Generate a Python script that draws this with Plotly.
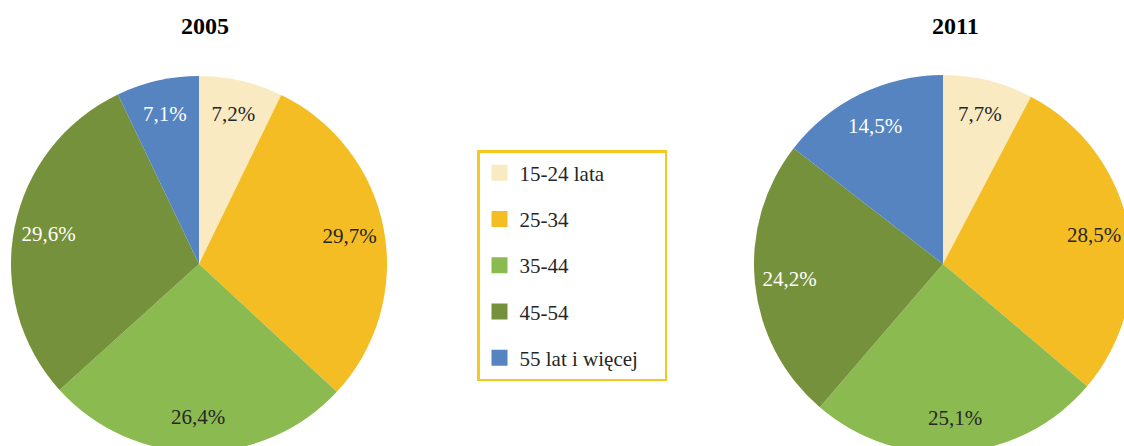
import plotly.graph_objects as go

categories = ["15-24 lata", "25-34", "35-44", "45-54", "55 lat i więcej"]
values_2005 = [7.2, 29.7, 26.4, 29.6, 7.1]
values_2011 = [7.7, 28.5, 25.1, 24.2, 14.5]
years = ["2005", "2011"]

colors = ["#FAEAC2", "#F4BD24", "#8BBA50", "#76913B", "#5584C0"]
text_colors = ["#262626", "#262626", "#262626", "#FFFFFF", "#FFFFFF"]

W, H = 1140, 460
FONT = "Liberation Serif, Times New Roman, serif"


def fmt(v):
    return f"{v:.1f}".replace(".", ",") + "%"


fig = go.Figure()

pies = [
    (values_2005, (199, 264, 188)),
    (values_2011, (943, 264, 189)),
]
for vals, (cx, cy, r) in pies:
    dom = dict(x=[(cx - r) / W, (cx + r) / W],
               y=[(H - cy - r) / H, (H - cy + r) / H])
    # filled slices
    fig.add_trace(go.Pie(
        labels=categories, values=vals, sort=False,
        direction="clockwise", rotation=0,
        marker=dict(colors=colors, line=dict(width=0)),
        textinfo="none", showlegend=False, domain=dom,
    ))
    # transparent ring carrying the percentage labels
    fig.add_trace(go.Pie(
        labels=categories, values=vals, sort=False,
        direction="clockwise", rotation=0, hole=0.63,
        marker=dict(colors=["rgba(0,0,0,0)"] * len(vals), line=dict(width=0)),
        text=[fmt(v) for v in vals], textinfo="text",
        textposition="inside", insidetextorientation="horizontal",
        insidetextfont=dict(family=FONT, size=21, color=text_colors),
        hoverinfo="skip", showlegend=False, domain=dom,
    ))

legend_names = categories[:-1] + [categories[-1] + "\u00a0" * 4]
for cat, name, col in zip(categories, legend_names, colors):
    fig.add_trace(go.Scatter(
        x=[None], y=[None], mode="markers", name=name, legendgroup=cat,
        marker=dict(symbol="square", size=16, color=col),
        showlegend=True,
    ))

title_pos = [205, 955]
for yr, tx in zip(years, title_pos):
    fig.add_annotation(text=f"<b>{yr}</b>", x=tx / W, y=(H - 26) / H,
                       xref="paper", yref="paper", showarrow=False,
                       yanchor="middle", xanchor="center",
                       font=dict(family=FONT, size=24, color="#000000"))

fig.update_layout(
    width=W, height=H,
    margin=dict(l=0, r=0, t=0, b=0),
    paper_bgcolor="white", plot_bgcolor="white",
    xaxis=dict(visible=False), yaxis=dict(visible=False),
    legend=dict(
        x=477 / W, y=(H - 150) / H, xanchor="left", yanchor="top",
        bordercolor="#F6C71E", borderwidth=2.5, bgcolor="white",
        font=dict(family=FONT, size=21, color="#262626"),
        tracegroupgap=16,
    ),
)

fig.write_html(
    "out.html",
    config={"displayModeBar": False},
    post_script="document.body.style.margin='0';"
                "document.documentElement.style.overflow='hidden';"
                "document.body.style.overflow='hidden';",
)
